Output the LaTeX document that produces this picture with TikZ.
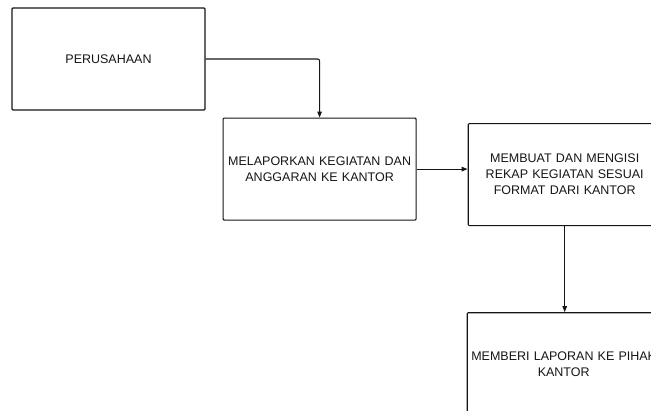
\documentclass[tikz,border=0pt]{standalone}
\usepackage{fontspec}
\setmainfont{Liberation Sans}
\usepackage{xcolor}
\usepackage{tikz}
\usetikzlibrary{arrows.meta, positioning}
\definecolor{inkgray}{HTML}{151515}

\begin{document}
\begin{tikzpicture}[
  x=1pt, y=-1pt,
  font=\fontsize{12.5}{16}\selectfont,
  stepbox/.style={rectangle, rounded corners=1pt, draw=inkgray, line width=1.1pt,
              text=inkgray, text width=188pt, align=center,
              minimum width=193pt, minimum height=102pt, inner sep=0pt},
  arrow/.style={-{Triangle[length=6pt, width=4.5pt]}, line width=1.1pt,
              color=inkgray, rounded corners=2pt},
]
\clip (0,0) rectangle (651,410);

\node[stepbox] (usaha) at (108.5,59) {PERUSAHAAN};
\node[stepbox, below right=7pt and 17pt of usaha.south east, anchor=north west] (lapor)
      {MELAPORKAN KEGIATAN DAN\\ANGGARAN KE KANTOR};
\node[stepbox, right=51pt of lapor, yshift=-5.5pt] (rekap)
      {MEMBUAT DAN MENGISI\\REKAP KEGIATAN SESUAI\\FORMAT DARI KANTOR};
\node[stepbox, below=86pt of rekap, xshift=-1pt] (beri) {MEMBERI LAPORAN KE PIHAK\\KANTOR};

\draw[arrow] (usaha.east) -| (lapor.north);
\draw[arrow] (lapor.east) -- (lapor.east -| rekap.west);
\draw[arrow] (rekap.south) -- (rekap.south |- beri.north);
\end{tikzpicture}
\end{document}
